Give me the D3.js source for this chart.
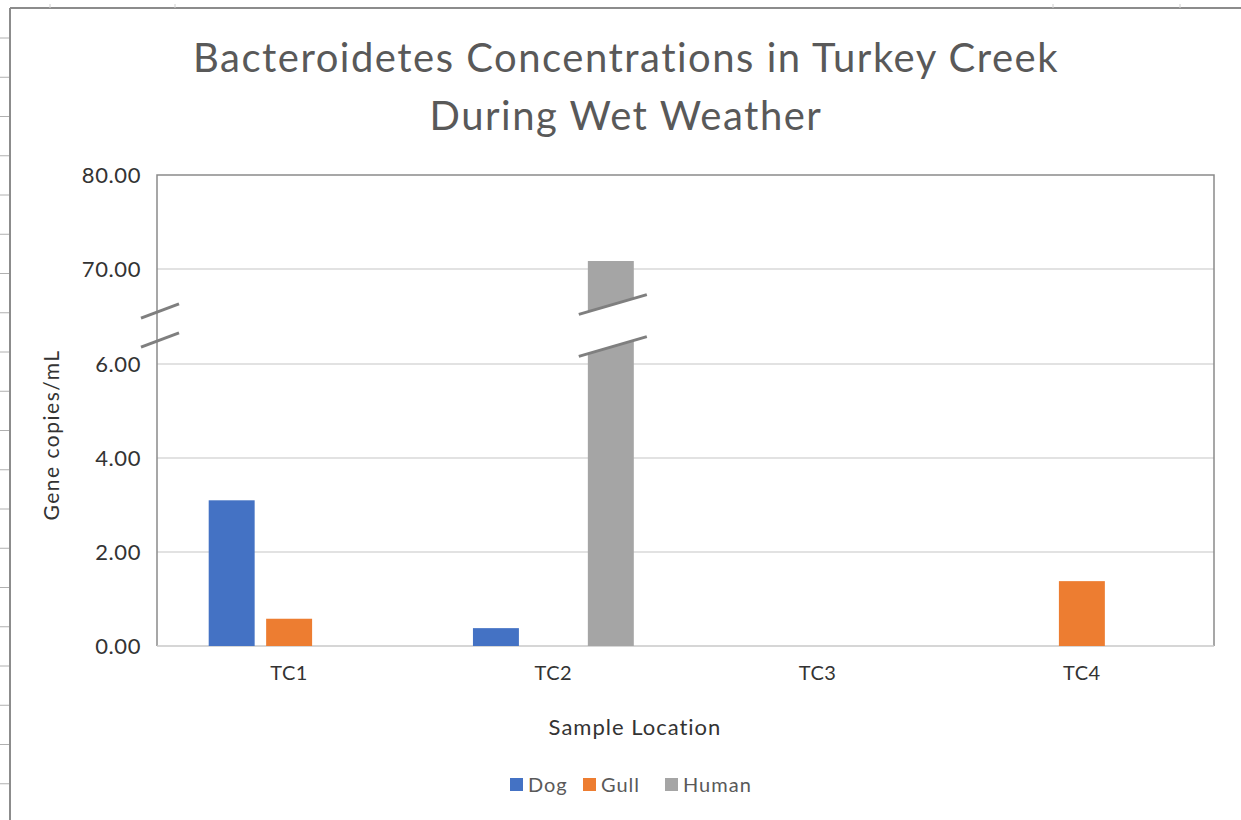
<!DOCTYPE html>
<html>
<head>
<meta charset="utf-8">
<script src="https://cdn.jsdelivr.net/npm/d3@7"></script>
<style>
  body { margin: 0; background: #fff; }
  svg { display: block; font-family: Lato, "Open Sans", sans-serif; font-variant-ligatures: none; }
</style>
</head>
<body>
<div id="chart"></div>
<script>
// data
var categories = ["TC1", "TC2", "TC3", "TC4"];
var seriesNames = ["Dog", "Gull", "Human"];
var dogValues = [3.1, 0.38, 0, 0];
var gullValues = [0.58, 0, 0, 1.38];
var humanValues = [0, 70.85, 0, 0];
var tickValues = [0, 2, 4, 6, 70, 80];
var seriesColors = ["#4472C4", "#ED7D31", "#A5A5A5"];

var W = 1241, H = 820;
var margin = {top: 175, right: 27, bottom: 174, left: 157};
var width = W - margin.left - margin.right;
var height = H - margin.top - margin.bottom;

var svgRoot = d3.select("#chart").append("svg")
  .attr("width", W).attr("height", H);

// spreadsheet frame behind the chart
svgRoot.append("line").attr("x1", 10).attr("x2", 10).attr("y1", 8).attr("y2", H)
  .attr("stroke", "#8c8c8c").attr("stroke-width", 2);
svgRoot.append("line").attr("x1", 10).attr("x2", W).attr("y1", 8).attr("y2", 8)
  .attr("stroke", "#8c8c8c").attr("stroke-width", 2);
d3.range(38, H, 39.25).forEach(function(yy) {
  svgRoot.append("line").attr("x1", 0).attr("x2", 9).attr("y1", yy).attr("y2", yy)
    .attr("stroke", "#b0b0b0").attr("stroke-width", 1);
});
[50, 175, 1053, 1180].forEach(function(xx) {
  svgRoot.append("line").attr("x1", xx).attr("x2", xx).attr("y1", 4).attr("y2", 8)
    .attr("stroke", "#d0d0d0").attr("stroke-width", 1);
});

// title
var title = svgRoot.append("text")
  .attr("text-anchor", "middle")
  .style("font-size", "40px")
  .style("letter-spacing", "1.5px")
  .style("fill", "#595959");
title.append("tspan").attr("x", 626).attr("y", 72).text("Bacteroidetes Concentrations in Turkey Creek");
title.append("tspan").attr("x", 626).attr("y", 130).text("During Wet Weather");

var svg = svgRoot.append("g")
  .attr("transform", "translate(" + margin.left + "," + margin.top + ")");

// broken y axis: 0-6 on the bottom, 70-80 on top
var y = d3.scaleLinear()
  .domain([0, 6, 70, 80])
  .range([height, height - 282, height - 377, 0]);

var x = d3.scaleBand().domain(categories).range([0, width]);
var xSub = d3.scaleBand().domain(seriesNames).range([0, x.bandwidth()])
  .paddingInner(0.2).paddingOuter(0.9);

// gridlines
svg.append("g").selectAll("line")
  .data(tickValues.slice(1, -1))
  .enter().append("line")
  .attr("x1", 0).attr("x2", width)
  .attr("y1", function(d) { return y(d); })
  .attr("y2", function(d) { return y(d); })
  .attr("stroke", "#d9d9d9").attr("stroke-width", 1.5);

// plot box
svg.append("path")
  .attr("d", "M0," + height + "V0H" + width + "V" + height)
  .attr("fill", "none").attr("stroke", "#8a8a8a").attr("stroke-width", 1.5);
svg.append("line").attr("x1", 0).attr("x2", width).attr("y1", height).attr("y2", height)
  .attr("stroke", "#c8c8c8").attr("stroke-width", 1.5);

// y axis labels
var yAxis = svg.append("g")
  .call(d3.axisLeft(y).tickValues(tickValues).tickFormat(d3.format(".2f")).tickSize(0).tickPadding(16));
yAxis.select(".domain").remove();
yAxis.selectAll("text").style("font-size", "22px").style("letter-spacing", "0.6px")
  .style("fill", "#333").style("font-family", "Lato, sans-serif");

// x axis labels
var xAxis = svg.append("g")
  .attr("transform", "translate(0," + height + ")")
  .call(d3.axisBottom(x).tickSize(0).tickPadding(20));
xAxis.select(".domain").remove();
xAxis.selectAll("text").style("font-size", "20px").style("letter-spacing", "0.5px")
  .style("fill", "#333").style("font-family", "Lato, sans-serif");

// bars
var rows = categories.map(function(c, i) {
  return {cat: c, values: [dogValues[i], gullValues[i], humanValues[i]]};
});
var groups = svg.selectAll(".grp")
  .data(rows).enter().append("g")
  .attr("class", "grp")
  .attr("transform", function(d) { return "translate(" + x(d.cat) + ",0)"; });
groups.selectAll("rect")
  .data(function(d) { return d.values.map(function(v, j) { return {name: seriesNames[j], value: v, color: seriesColors[j]}; }); })
  .enter().append("rect")
  .attr("x", function(d) { return xSub(d.name); })
  .attr("width", xSub.bandwidth())
  .attr("y", function(d) { return y(d.value); })
  .attr("height", function(d) { return height - y(d.value); })
  .attr("fill", function(d) { return d.color; });

// break marks
var breakMid = (y(6) + y(70)) / 2 + 9;
function breakMark(cx, halfW, slope, gap, fillGap) {
  var y1 = breakMid - gap / 2, y2 = breakMid + gap / 2;
  if (fillGap) {
    svg.append("path")
      .attr("d", "M" + (cx - halfW) + "," + (y1 + halfW * slope) + "L" + (cx + halfW) + "," + (y1 - halfW * slope) +
        "L" + (cx + halfW) + "," + (y2 - halfW * slope) + "L" + (cx - halfW) + "," + (y2 + halfW * slope) + "Z")
      .attr("fill", "#fff");
  }
  [y1, y2].forEach(function(yy) {
    svg.append("line")
      .attr("x1", cx - halfW).attr("y1", yy + halfW * slope)
      .attr("x2", cx + halfW).attr("y2", yy - halfW * slope)
      .attr("stroke", "#7f7f7f").attr("stroke-width", 3);
  });
}
breakMark(3, 19, 0.38, 29, false);
var humanX = x("TC2") + xSub("Human") + xSub.bandwidth() / 2;
breakMark(humanX + 2, 34, 0.29, 42, true);

// axis titles
svgRoot.append("text")
  .attr("transform", "translate(59,435) rotate(-90)")
  .attr("text-anchor", "middle")
  .style("font-size", "21px").style("letter-spacing", "1.5px").style("fill", "#333")
  .text("Gene copies/mL");
svgRoot.append("text")
  .attr("x", 635).attr("y", 735)
  .attr("text-anchor", "middle")
  .style("font-size", "22px").style("letter-spacing", "1px").style("fill", "#333")
  .text("Sample Location");

// legend
var legendX = [510, 583, 665];
var legend = svgRoot.selectAll(".leg")
  .data(seriesNames).enter().append("g")
  .attr("class", "leg")
  .attr("transform", function(d, i) { return "translate(" + legendX[i] + ",778)"; });
legend.append("rect").attr("width", 13).attr("height", 13)
  .attr("fill", function(d, i) { return seriesColors[i]; });
legend.append("text").attr("x", 18).attr("y", 13.5)
  .style("font-size", "20px").style("letter-spacing", "1px").style("fill", "#595959")
  .text(function(d) { return d; });
</script>
</body>
</html>
